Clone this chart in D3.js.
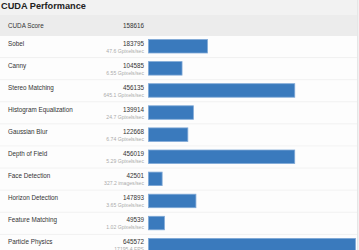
<!DOCTYPE html>
<html>
<head>
<meta charset="utf-8">
<script src="https://cdn.jsdelivr.net/npm/d3@7"></script>
<style>
body { margin: 0; background: #f2f2f2; font-family: "Liberation Sans", Arial, sans-serif; }
</style>
</head>
<body>
<div id="chart"></div>
<script>
var title = "CUDA Performance";
var scoreLabel = "CUDA Score";
var scoreValue = 158616;
var names = ["Sobel", "Canny", "Stereo Matching", "Histogram Equalization", "Gaussian Blur",
  "Depth of Field", "Face Detection", "Horizon Detection", "Feature Matching", "Particle Physics"];
var scores = [183795, 104585, 456135, 139914, 122668, 456019, 42501, 147893, 49539, 645572];
var rates = ["47.6 Gpixels/sec", "6.55 Gpixels/sec", "645.1 Gpixels/sec", "24.7 Gpixels/sec",
  "6.74 Gpixels/sec", "5.29 Gpixels/sec", "327.2 images/sec", "3.65 Gpixels/sec",
  "1.02 Gpixels/sec", "17195.4 FPS"];

var W = 359, H = 250,
    panelW = 357,
    rowTop = 36, rowH = 22.1,
    barX = 148.5, barW = 207,
    valX = 144;

var svg = d3.select("#chart").append("svg").attr("width", W).attr("height", H);

svg.append("rect").attr("width", W).attr("height", H).attr("fill", "#f2f2f2");

svg.append("text")
    .attr("x", 1).attr("y", 9)
    .attr("font-size", 9.2).attr("font-weight", "bold").attr("fill", "#222")
    .text(title);

// header row
svg.append("rect").attr("x", 0).attr("y", 15).attr("width", panelW).attr("height", 21).attr("fill", "#ececec");
svg.append("text").attr("x", 8).attr("y", 28).attr("font-size", 6.3).attr("fill", "#333").text(scoreLabel);
svg.append("text").attr("x", valX).attr("y", 28).attr("font-size", 6.3).attr("fill", "#333")
    .attr("text-anchor", "end").text(scoreValue);

var x = d3.scaleLinear().domain([0, d3.max(scores)]).range([0, barW]);

var rows = svg.selectAll("g.row")
    .data(names)
  .enter().append("g")
    .attr("class", "row")
    .attr("transform", function(d, i) { return "translate(0," + (rowTop + i * rowH) + ")"; });

rows.append("rect")
    .attr("width", panelW).attr("height", rowH)
    .attr("fill", "#fdfdfd");

rows.append("line")
    .attr("x1", 0).attr("x2", panelW)
    .attr("y1", rowH - 0.5).attr("y2", rowH - 0.5)
    .attr("stroke", "#f0f0f0");

rows.append("text")
    .attr("x", 8).attr("y", 9.5)
    .attr("font-size", 6.3).attr("fill", "#333")
    .text(function(d) { return d; });

rows.append("text")
    .attr("x", valX).attr("y", 9.5)
    .attr("font-size", 6.3).attr("fill", "#333").attr("text-anchor", "end")
    .text(function(d, i) { return scores[i]; });

rows.append("text")
    .attr("x", valX).attr("y", 16.5)
    .attr("font-size", 5.1).attr("fill", "#aaa").attr("text-anchor", "end")
    .text(function(d, i) { return rates[i]; });

rows.append("rect")
    .attr("x", barX).attr("y", 3.5)
    .attr("width", function(d, i) { return x(scores[i]); })
    .attr("height", 13.5)
    .attr("fill", "#3a7abd")
    .attr("stroke", "#7fa8d6").attr("stroke-width", 0.8);

svg.append("line").attr("x1", panelW + 0.5).attr("x2", panelW + 0.5).attr("y1", 0).attr("y2", H)
    .attr("stroke", "#e6e6e6");
</script>
</body>
</html>
